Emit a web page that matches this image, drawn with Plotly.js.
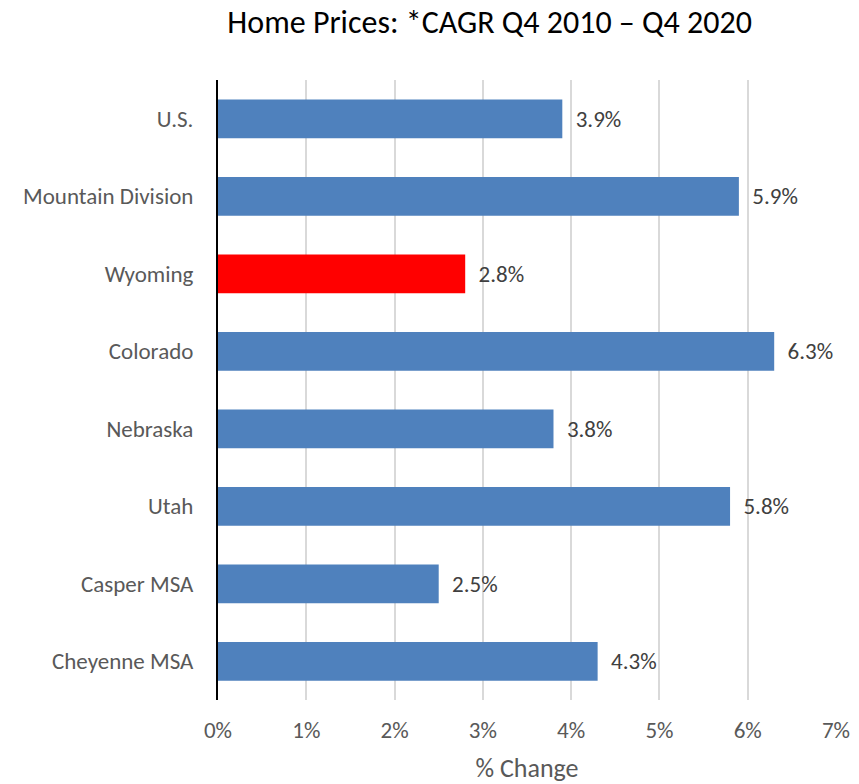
<!DOCTYPE html>
<html>
<head>
<meta charset="utf-8">
<script src="https://cdn.plot.ly/plotly-3.0.1.min.js"></script>
<style>html,body{margin:0;padding:0;background:#fff;}#chart{width:859px;height:784px;}</style>
</head>
<body>
<div id="chart"></div>
<script>
const categories = ["U.S.", "Mountain Division", "Wyoming", "Colorado", "Nebraska", "Utah", "Casper MSA", "Cheyenne MSA"];
const cagr = [3.9, 5.9, 2.8, 6.3, 3.8, 5.8, 2.5, 4.3];
const highlighted = "Wyoming";
const xTickVals = [0, 1, 2, 3, 4, 5, 6, 7];
const xTickText = ["0%", "1%", "2%", "3%", "4%", "5%", "6%", "7%"];

const FONT = "Carlito, Calibri, Lato, sans-serif";
const colors = categories.map(c => c === highlighted ? "#FF0000" : "#4F81BD");

const trace = {
  type: "bar",
  orientation: "h",
  y: categories,
  x: cagr,
  marker: {color: colors},
  text: cagr.map(v => "\u00a0\u00a0" + v.toFixed(1) + "%"),
  textposition: "outside",
  textfont: {family: FONT, size: 23, color: "#404040"},
  cliponaxis: false,
  hoverinfo: "none"
};

const layout = {
  width: 859, height: 784,
  margin: {l: 218, r: 23, t: 80, b: 84},
  paper_bgcolor: "#fff", plot_bgcolor: "#fff",
  bargap: 0.5,
  showlegend: false,
  title: {
    text: "Home Prices: *CAGR Q4 2010 \u2013 Q4 2020",
    font: {family: FONT, size: 32, color: "#000"},
    x: 0.570, xanchor: "center", xref: "container",
    y: 0.972, yanchor: "middle", yref: "container"
  },
  xaxis: {
    range: [0, 7],
    tickvals: xTickVals, ticktext: xTickText,
    showgrid: true, gridcolor: "#D9D9D9", gridwidth: 2,
    zeroline: false, showline: false,
    ticks: "", ticklabelstandoff: 14,
    tickfont: {family: FONT, size: 23, color: "#595959"},
    title: {text: "% Change", font: {family: FONT, size: 26, color: "#595959"}, standoff: 15},
    fixedrange: true
  },
  yaxis: {
    type: "category",
    autorange: "reversed",
    showline: true, linecolor: "#000", linewidth: 2,
    showgrid: false, zeroline: false,
    ticks: "", ticklabelstandoff: 18,
    tickfont: {family: FONT, size: 23, color: "#595959"},
    fixedrange: true
  }
};

Plotly.newPlot("chart", [trace], layout, {staticPlot: true, displayModeBar: false});
</script>
</body>
</html>
